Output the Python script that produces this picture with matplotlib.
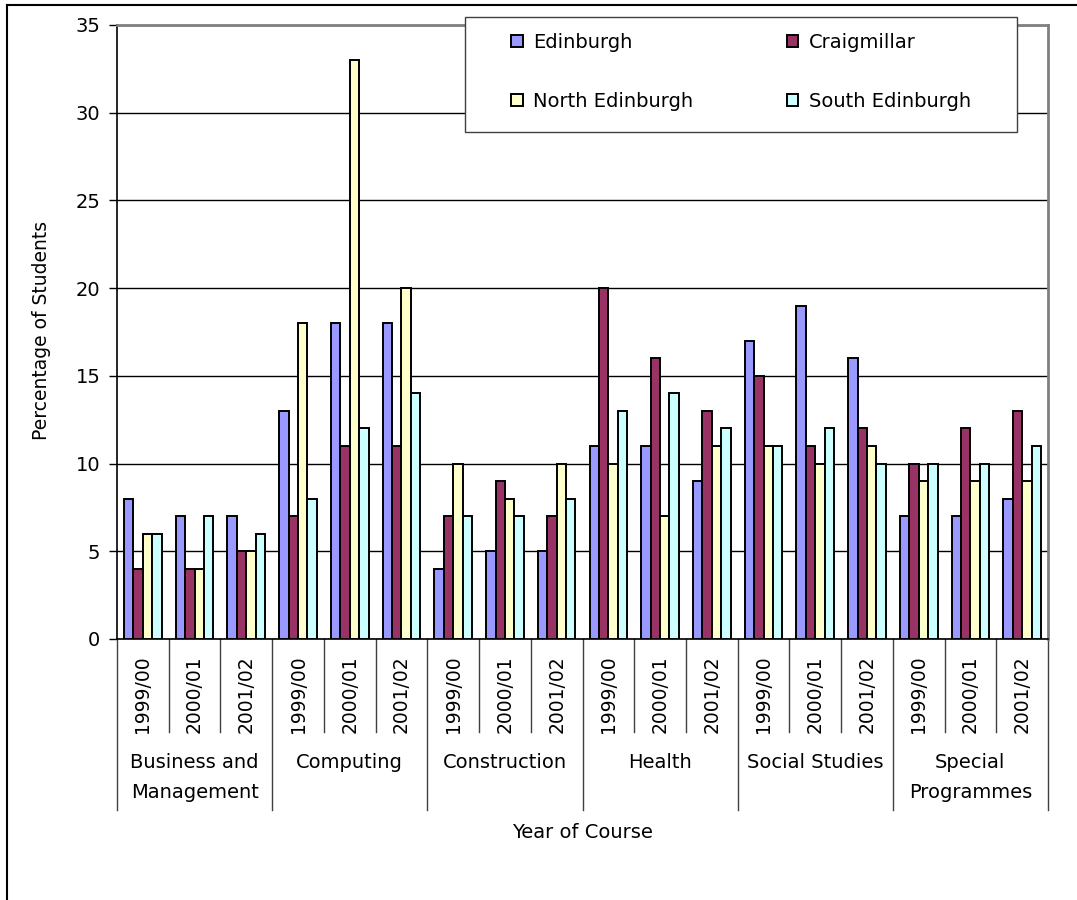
import matplotlib.pyplot as plt
from matplotlib.lines import Line2D
from matplotlib.patches import Rectangle
from matplotlib.transforms import blended_transform_factory
import numpy as np

plt.rcParams['font.family'] = ['DejaVu Sans']

subjects = ["Business and\nManagement", "Computing", "Construction",
            "Health", "Social Studies", "Special\nProgrammes"]
years = ["1999/00", "2000/01", "2001/02"]
areas = ["Edinburgh", "Craigmillar", "North Edinburgh", "South Edinburgh"]
colors = ["#9999FF", "#993366", "#FFFFCC", "#CCFFFF"]

# one value per subject/year slot, in subject order
edinburgh = [8, 7, 7, 13, 18, 18, 4, 5, 5, 11, 11, 9, 17, 19, 16, 7, 7, 8]
craigmillar = [4, 4, 5, 7, 11, 11, 7, 9, 7, 20, 16, 13, 15, 11, 12, 10, 12, 13]
north_edinburgh = [6, 4, 5, 18, 33, 20, 10, 8, 10, 10, 7, 11, 11, 10, 11, 9, 9, 9]
south_edinburgh = [6, 7, 6, 8, 12, 14, 7, 7, 8, 13, 14, 12, 11, 12, 10, 10, 10, 11]
series = [edinburgh, craigmillar, north_edinburgh, south_edinburgh]

W, H = 1077, 900
fs = 14
fig = plt.figure(figsize=(W / 100, H / 100), dpi=100)
ax = fig.add_axes([117 / W, 1 - 639 / H, (1048 - 117) / W, (639 - 25) / H])

n = len(edinburgh)
x = np.arange(n)
bw = 1 / 5.5
bars = []
for i, (vals, c, lab) in enumerate(zip(series, colors, areas)):
    b = ax.bar(x - 0.5 + 0.75 * bw + (i + 0.5) * bw, vals, width=bw, color=c,
               edgecolor="black", linewidth=1.4, label=lab, zorder=3)
    bars.append(b)

ax.set_xlim(-0.5, n - 0.5)
ax.set_ylim(0, 35)
ax.set_yticks(range(0, 36, 5))
ax.tick_params(axis="y", labelsize=fs, length=6, width=1, pad=6, direction="out")
ax.set_xticks([])
ax.yaxis.grid(True, color="black", linewidth=1)
for s in ["top", "right"]:
    ax.spines[s].set_color("#808080")
    ax.spines[s].set_linewidth(2)
ax.spines["left"].set_linewidth(1.2)
ax.spines["bottom"].set_linewidth(1.2)

# category axis: year labels, separators and subject names
tr = blended_transform_factory(ax.transData, fig.transFigure)
for k in range(n + 1):
    bottom = 810 if k % 3 == 0 else 732
    ax.add_line(Line2D([k - 0.5, k - 0.5], [1 - 639 / H, 1 - bottom / H],
                       transform=tr, color="#404040", linewidth=1, clip_on=False))
for k in range(n):
    ax.text(k, 1 - 655 / H, years[k % 3], transform=tr, rotation=90,
            ha="center", va="top", fontsize=13.5)
for g, name in enumerate(subjects):
    ax.text(3 * g + 1, 1 - 753 / H, name, transform=tr, ha="center",
            va="top", fontsize=fs, linespacing=1.7)

fig.text((117 + 1048) / 2 / W, 1 - 833 / H, "Year of Course",
         ha="center", va="center", fontsize=fs)
fig.text(42 / W, 1 - 330 / H, "Percentage of Students", rotation=90,
         ha="center", va="center", fontsize=13.5)

# legend in two rows: Edinburgh, Craigmillar / North, South
order = [0, 2, 1, 3]
leg = ax.legend([bars[i] for i in order], [areas[i] for i in order], ncol=2,
                loc="upper left", bbox_to_anchor=(511 / W, 1 - 33 / H),
                bbox_transform=fig.transFigure, fontsize=fs, frameon=False,
                handlelength=0.6, handleheight=0.6, handletextpad=0.55,
                columnspacing=4.8, labelspacing=2.05, borderpad=0,
                borderaxespad=0)
leg.set_zorder(6)
ax.add_patch(Rectangle((465 / W, 1 - 132 / H), (1017 - 465) / W, (132 - 17) / H,
                       transform=fig.transFigure, facecolor="white",
                       edgecolor="#404040", linewidth=1, zorder=5, clip_on=False))

# outer chart border (left and top edges)
fig.add_artist(Line2D([7 / W, 7 / W], [0, 1 - 5 / H], transform=fig.transFigure,
                      color="black", linewidth=1.5))
fig.add_artist(Line2D([7 / W, 1], [1 - 5 / H, 1 - 5 / H], transform=fig.transFigure,
                      color="black", linewidth=1.5))

fig.savefig("out.png", dpi=100)
